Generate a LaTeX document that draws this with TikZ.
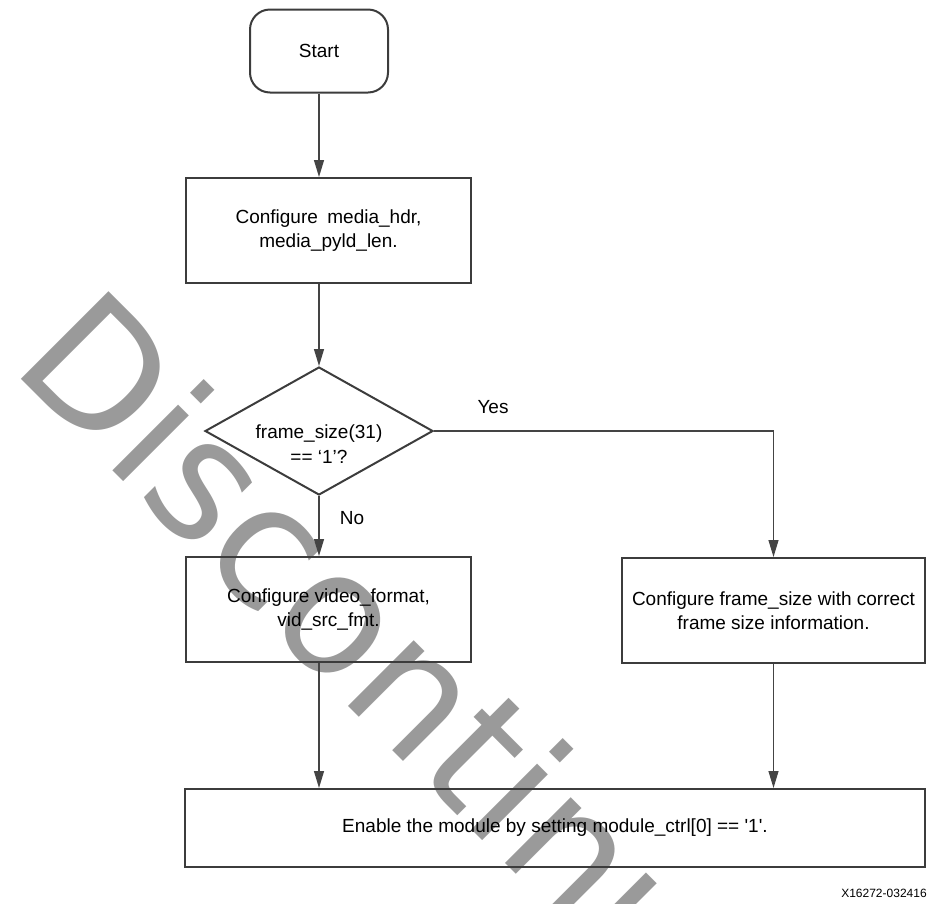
\documentclass[tikz,border=0pt]{standalone}
\usepackage{fontspec}
\setmainfont{Liberation Sans}
\newfontfamily\wmfont{DejaVu Sans}
\usetikzlibrary{arrows.meta,shapes.geometric}
\definecolor{wmgray}{HTML}{9A9A9A}
\definecolor{linegray}{HTML}{3C3C3C}
\definecolor{conngray}{HTML}{444444}
\tikzset{
  boxstyle/.style={draw=linegray, line width=2pt, rectangle, inner sep=0pt, align=center,
    font=\fontsize{19}{24.5}\selectfont, text=black},
  arr/.style={draw=conngray, line width=1.2pt, -{Triangle[length=17pt,width=10pt]}},
  lbl/.style={font=\fontsize{19}{24.5}\selectfont, text=black, inner sep=0pt},
}
\begin{document}
\begin{tikzpicture}[x=1pt,y=-1pt]
\useasboundingbox (0,0) rectangle (929,903);
\clip (0,0) rectangle (929,903);
% watermark
\node[rotate=-45, anchor=base west, inner sep=0pt, text=wmgray,
      font=\wmfont\fontsize{170}{170}\selectfont] (wm) at (9,367) {Discontinued};
% nodes
\node[boxstyle, rounded corners=20pt, minimum width=138pt, minimum height=83pt] (start) at (319,51) {Start};
\node[boxstyle, minimum width=285pt, minimum height=105pt] (b1) at (328.5,230.5)
  {Configure\enspace media\_hdr,\\media\_pyld\_len.};
\node[draw=linegray, line width=2pt, diamond, inner sep=0pt, shape aspect=1.78,
      minimum width=228pt, minimum height=128pt] (dia) at (319,431) {};
\node[lbl, align=center] (dtext) at (319,444) {frame\_size(31)\\== ‘1’?};
\node[boxstyle, minimum width=285pt, minimum height=105pt] (b2) at (328.5,609.5)
  {Configure video\_format,\\vid\_src\_fmt.};
\node[boxstyle, minimum width=303pt, minimum height=105pt] (b3) at (773.5,610.5)
  {Configure frame\_size with correct\\frame size information.};
\node[boxstyle, minimum width=740pt, minimum height=78pt] (b4) at (555,828)
  {Enable the module by setting module\_ctrl[0] == \textquotesingle1\textquotesingle.};
\node[lbl] (yes) at (493,407) {Yes};
\node[lbl] (no) at (352,518) {No};
\node[inner sep=0pt, font=\fontsize{12}{14}\selectfont] (fig) at (884,893) {X16272-032416};
% connectors
\draw[arr] (start.south) -- (start.south |- b1.north);
\draw[arr] (b1.south -| dia.north) -- (dia.north);
\draw[arr] (dia.east) -| (b3.north);
\draw[arr] (dia.south) -- (dia.south |- b2.north);
\draw[arr] (b2.south -| dia.south) -- (dia.south |- b4.north);
\draw[arr] (b3.south) -- (b3.south |- b4.north);
\end{tikzpicture}
\end{document}
